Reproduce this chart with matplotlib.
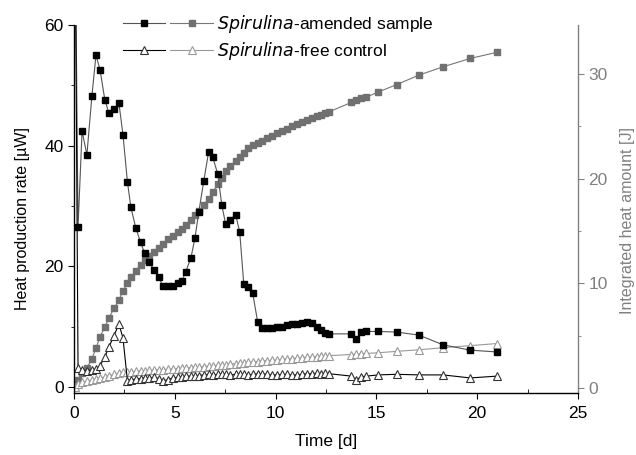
import matplotlib
matplotlib.use('Agg')
import matplotlib.pyplot as plt
from matplotlib.ticker import MultipleLocator
from matplotlib.legend_handler import HandlerTuple

plt.rcParams['font.family'] = ['Liberation Sans', 'DejaVu Sans']

# time points [d]
t = [0.05, 0.2, 0.4, 0.64, 0.89, 1.09, 1.29, 1.53, 1.73, 1.98,
     2.23, 2.43, 2.65, 2.82, 3.07, 3.3, 3.5, 3.73, 3.96, 4.2,
     4.4, 4.65, 4.9, 5.15, 5.35, 5.54, 5.8, 6.0, 6.19, 6.44,
     6.68, 6.88, 7.13, 7.33, 7.52, 7.72, 8.02, 8.22, 8.42, 8.61,
     8.86, 9.11, 9.31, 9.55, 9.8, 10.05, 10.3, 10.55, 10.8, 11.05,
     11.3, 11.55, 11.8, 12.05, 12.25, 12.45, 12.65, 13.76, 14.0, 14.26,
     14.5, 15.1, 16.0, 17.1, 18.3, 19.65, 21.0]

# heat production rate [uW], Spirulina-amended sample
rate_sample = [80, 26.5, 42.4, 38.5, 48.3, 55.0, 52.6, 47.6, 45.4, 46.0,
               47.0, 41.8, 34.0, 29.8, 26.3, 24.0, 22.2, 20.7, 19.4, 18.2,
               16.8, 16.8, 16.8, 17.2, 17.6, 19.1, 21.4, 24.7, 29.0, 34.2,
               39.0, 38.1, 35.3, 30.2, 27.0, 27.7, 28.5, 25.7, 17.1, 16.6,
               15.6, 10.8, 9.8, 9.8, 9.8, 9.9, 10.0, 10.2, 10.4, 10.5,
               10.6, 10.7, 10.6, 10.0, 9.4, 9.0, 8.8, 8.8, 8.0, 9.1,
               9.2, 9.2, 9.1, 8.6, 7.0, 6.1, 5.8]

# integrated heat [J], sample
int_sample = [0.1, 0.8, 1.4, 1.9, 2.8, 3.8, 4.9, 5.8, 6.7, 7.6,
              8.4, 9.3, 10.0, 10.6, 11.2, 11.8, 12.2, 12.6, 13.0, 13.4,
              13.8, 14.2, 14.5, 14.9, 15.2, 15.6, 16.1, 16.5, 16.9, 17.5,
              18.1, 18.7, 19.5, 20.1, 20.7, 21.2, 21.7, 22.1, 22.5, 22.9,
              23.2, 23.4, 23.6, 23.9, 24.1, 24.4, 24.6, 24.8, 25.0, 25.2,
              25.4, 25.6, 25.8, 26.0, 26.1, 26.3, 26.4, 27.3, 27.5, 27.7,
              27.8, 28.3, 29.0, 29.9, 30.7, 31.5, 32.1]

# heat production rate [uW], Spirulina-free control
rate_control = [80, 3.2, 2.8, 2.7, 2.8, 3.0, 3.5, 5.0, 6.6, 8.5,
                10.4, 8.1, 1.0, 1.2, 1.3, 1.4, 1.5, 1.5, 1.6, 1.4,
                1.0, 1.2, 1.5, 1.6, 1.7, 1.8, 1.8, 1.9, 1.9, 2.0,
                2.1, 2.0, 2.1, 2.2, 2.1, 2.0, 2.1, 2.2, 2.1, 2.0,
                2.1, 2.2, 2.2, 2.1, 2.0, 2.0, 2.1, 2.1, 2.0, 2.0,
                2.1, 2.2, 2.2, 2.3, 2.2, 2.3, 2.2, 1.8, 1.2, 1.7,
                1.8, 2.0, 2.1, 2.0, 2.0, 1.5, 1.8]

# integrated heat [J], control
int_control = [0.1, 0.4, 0.55, 0.65, 0.75, 0.85, 0.95, 1.05, 1.15, 1.3,
               1.4, 1.5, 1.55, 1.57, 1.6, 1.62, 1.65, 1.68, 1.71, 1.74,
               1.76, 1.79, 1.82, 1.85, 1.88, 1.91, 1.95, 1.98, 2.01, 2.05,
               2.09, 2.13, 2.17, 2.2, 2.24, 2.28, 2.33, 2.37, 2.41, 2.44,
               2.49, 2.53, 2.57, 2.61, 2.65, 2.69, 2.73, 2.77, 2.81, 2.85,
               2.89, 2.93, 2.97, 3.0, 3.03, 3.06, 3.09, 3.2, 3.23, 3.26,
               3.3, 3.37, 3.5, 3.65, 3.85, 4.05, 4.25]

grey = '#808080'

fig = plt.figure(figsize=(6.36, 4.55), dpi=100)
ax = fig.add_axes([74 / 636, 62 / 455, 504 / 636, 368 / 455])
ax2 = ax.twinx()

# right axis: integrated heat
i1, = ax2.plot(t, int_sample, '-', color='#777777', lw=0.8, marker='s', ms=4.5,
               mfc='#707070', mec='#707070')
i2, = ax2.plot(t, int_control, '-', color='#999999', lw=0.8, marker='^', ms=5.5,
               mfc='white', mec='#999999', mew=0.8)

# left axis: heat production rate
r1, = ax.plot(t, rate_sample, '-', color='#555555', lw=0.8, marker='s', ms=4.5,
              mfc='black', mec='black')
r2, = ax.plot(t, rate_control, '-', color='black', lw=0.8, marker='^', ms=5.5,
              mfc='white', mec='#333333', mew=0.8)

ax.set_zorder(ax2.get_zorder() + 1)
ax.patch.set_visible(False)

ax.set_xlim(0, 25)
ax.set_ylim(-1, 60)
ax2.set_ylim(-0.48, 34.7)

ax.xaxis.set_major_locator(MultipleLocator(5))
ax.xaxis.set_minor_locator(MultipleLocator(2.5))
ax.yaxis.set_major_locator(MultipleLocator(20))
ax.yaxis.set_minor_locator(MultipleLocator(10))
ax2.yaxis.set_major_locator(MultipleLocator(10))
ax2.yaxis.set_minor_locator(MultipleLocator(5))

ax.spines['top'].set_visible(False)
ax.spines['right'].set_visible(False)
ax2.spines['top'].set_visible(False)
ax2.spines['left'].set_visible(False)
ax2.spines['bottom'].set_visible(False)
ax2.spines['right'].set_color(grey)
for s in ['left', 'bottom']:
    ax.spines[s].set_linewidth(1.0)
ax2.spines['right'].set_linewidth(1.0)

ax.tick_params(axis='x', which='major', direction='out', length=4, pad=5,
               labelsize=12.5)
ax.tick_params(axis='x', which='minor', direction='in', length=3)
ax.tick_params(axis='y', which='major', direction='out', length=4, labelsize=12.5)
ax.tick_params(axis='y', which='minor', direction='out', length=2.5)
ax2.tick_params(axis='y', which='major', direction='out', length=4, labelsize=12.5,
                colors=grey)
ax2.tick_params(axis='y', which='minor', direction='out', length=2.5, colors=grey)

ax.set_xlabel('Time [d]', fontsize=12.5, labelpad=10)
ax.set_ylabel('Heat production rate [µW]', fontsize=11.5)
ax.yaxis.set_label_coords(-0.088, 0.475)
ax2.set_ylabel('Integrated heat amount [J]', fontsize=11.5, color=grey)
ax2.yaxis.set_label_coords(1.084, 0.47)

leg = ax.legend([(r1, i1), (r2, i2)],
                [r'$\it{Spirulina}$-amended sample', r'$\it{Spirulina}$-free control'],
                handler_map={tuple: HandlerTuple(ndivide=None, pad=0.3)},
                loc='upper left', bbox_to_anchor=(114 / 636, 1 - 4 / 455),
                bbox_transform=fig.transFigure, frameon=False, fontsize=12.5,
                handlelength=5.2, handletextpad=0.25, labelspacing=0.3,
                borderpad=0)

fig.savefig('out.png', dpi=100)
